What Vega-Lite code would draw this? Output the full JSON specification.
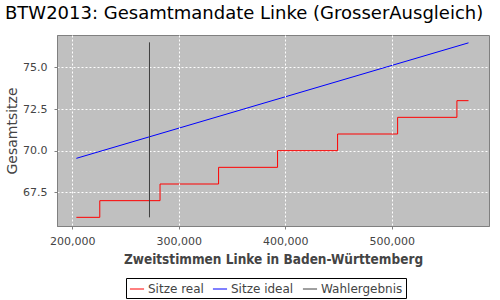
{
  "$schema": "https://vega.github.io/schema/vega-lite/v6.json",
  "width": 432,
  "height": 191,
  "autosize": {"type": "none"},
  "padding": {"left": 57, "top": 35, "right": 11, "bottom": 74},
  "background": "white",
  "title": {
    "text": "BTW2013: Gesamtmandate Linke (GrosserAusgleich)",
    "font": "DejaVu Sans",
    "fontSize": 18,
    "fontWeight": "normal",
    "color": "black",
    "anchor": "start",
    "frame": "group",
    "dx": -52,
    "offset": 12
  },
  "config": {
    "view": {"fill": "#c0c0c0", "stroke": "#808080", "strokeWidth": 1},
    "axis": {
      "labelFont": "DejaVu Sans",
      "labelFontSize": 11,
      "labelColor": "#444444",
      "titleFont": "DejaVu Sans",
      "titleColor": "#444444",
      "titleFontSize": 14,
      "domainColor": "#808080",
      "tickColor": "#808080",
      "tickSize": 3
    },
    "legend": {
      "labelFont": "DejaVu Sans",
      "labelFontSize": 12,
      "labelColor": "#444444"
    }
  },
  "data": {
    "values": [
      {"series": "Sitze real", "x": 203800, "y": 66},
      {"series": "Sitze real", "x": 225800, "y": 67},
      {"series": "Sitze real", "x": 282400, "y": 68},
      {"series": "Sitze real", "x": 337400, "y": 69},
      {"series": "Sitze real", "x": 392800, "y": 70},
      {"series": "Sitze real", "x": 449200, "y": 71},
      {"series": "Sitze real", "x": 505600, "y": 72},
      {"series": "Sitze real", "x": 561300, "y": 73},
      {"series": "Sitze real", "x": 572200, "y": 73},
      {"series": "Sitze ideal", "x": 203800, "y": 69.54},
      {"series": "Sitze ideal", "x": 572200, "y": 76.47},
      {"series": "Wahlergebnis", "x": 272500, "y": 66.0},
      {"series": "Wahlergebnis", "x": 272500, "y": 76.5}
    ]
  },
  "encoding": {
    "x": {
      "field": "x",
      "type": "quantitative",
      "scale": {"domain": [185600, 591450], "nice": false, "zero": false},
      "axis": {
        "title": "Zweitstimmen Linke in Baden-Württemberg",
        "titleFont": "DejaVu Sans Condensed, DejaVu Sans",
        "titleFontWeight": "bold",
        "titleFontSize": 13.5,
        "format": ",.0f",
        "values": [200000, 300000, 400000, 500000],
        "grid": true,
        "gridColor": "white",
        "gridDash": [2, 2],
        "gridOpacity": 1,
        "gridWidth": 1,
        "zindex": 1,
        "labelPadding": 6,
        "titlePadding": 6
      }
    },
    "y": {
      "field": "y",
      "type": "quantitative",
      "scale": {"domain": [65.48, 76.94], "nice": false, "zero": false},
      "axis": {
        "title": "Gesamtsitze",
        "titleFontWeight": "normal",
        "format": ".1f",
        "values": [67.5, 70, 72.5, 75],
        "grid": true,
        "gridColor": "white",
        "gridDash": [2, 2],
        "gridOpacity": 1,
        "gridWidth": 1,
        "labelPadding": 7,
        "titlePadding": 3
      }
    },
    "color": {
      "field": "series",
      "type": "nominal",
      "scale": {
        "domain": ["Sitze real", "Sitze ideal", "Wahlergebnis"],
        "range": ["#ff0000", "#0000ff", "#404040"]
      },
      "legend": {
        "title": null,
        "orient": "none",
        "direction": "horizontal",
        "legendX": 69,
        "legendY": 243,
        "symbolType": "stroke",
        "symbolSize": 200,
        "symbolStrokeWidth": 1,
        "strokeColor": "black",
        "padding": 3,
        "columnPadding": 6,
        "labelOffset": 3
      }
    }
  },
  "layer": [
    {
      "transform": [{"filter": "datum.series === 'Sitze real'"}],
      "mark": {"type": "line", "interpolate": "step-after", "strokeWidth": 1}
    },
    {
      "transform": [{"filter": "datum.series === 'Sitze ideal'"}],
      "mark": {"type": "line", "strokeWidth": 1}
    },
    {
      "transform": [{"filter": "datum.series === 'Wahlergebnis'"}],
      "mark": {"type": "line", "strokeWidth": 1},
      "encoding": {"order": {"field": "y"}}
    }
  ]
}
